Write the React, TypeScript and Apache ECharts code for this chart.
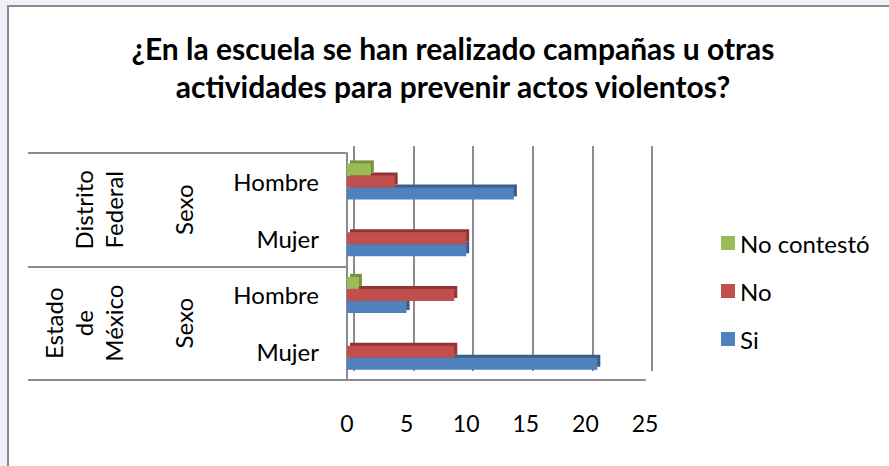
import React, { useEffect, useRef } from "react";
import * as echarts from "echarts";

const subCategories = ["Hombre", "Mujer", "Hombre", "Mujer"];
const sexLabels = ["Sexo", "Sexo"];
const regionLabels = ["Distrito\nFederal", "Estado\nde\nMéxico"];
const seriesNames = ["No contestó", "No", "Si"];
const noContesto = [2, 0, 1, 0];
const no = [4, 10, 9, 9];
const si = [14, 10, 5, 21];
const xTicks = { min: 0, max: 25, interval: 5 };
const titleText = "¿En la escuela se han realizado campañas u otras\nactividades para prevenir actos violentos?";

const FONT = "Lato";

export default function App() {
  const ref = useRef<HTMLDivElement>(null);
  useEffect(() => {
    const chart = echarts.init(ref.current!, null, { renderer: "svg" });
    const colors = ["#9BBB59", "#C0504D", "#4F81BD"];
    const shadows = ["#76923C", "#943634", "#385D8A"];
    const values = [noContesto, no, si];
    chart.setOption({
      animation: false,
      backgroundColor: "#EEF2F8",
      textStyle: { fontFamily: FONT },
      graphic: [
        {
          type: "rect",
          shape: { x: 8, y: 6, width: 900, height: 500 },
          style: { fill: "#ffffff", stroke: "#8a8a8a", lineWidth: 2 },
          z: -10,
        },
        {
          type: "text",
          x: 453,
          y: 29,
          style: {
            text: titleText,
            fill: "#000",
            font: `bold 30px ${FONT}`,
            textAlign: "center",
            lineHeight: 38,
          },
        },
      ],
      legend: {
        orient: "vertical",
        left: 716,
        top: 226,
        itemGap: 24,
        itemWidth: 14,
        itemHeight: 14,
        icon: "rect",
        data: seriesNames,
        textStyle: { fontSize: 24, fontFamily: FONT, color: "#000" },
      },
      grid: [
        { left: 347, top: 153, width: 298, height: 227, outerBoundsMode: "none", containLabel: false },
        { left: 354, top: 146, width: 298, height: 225, outerBoundsMode: "none", containLabel: false },
        { left: 28, top: 153, width: 318, height: 227, outerBoundsMode: "none", containLabel: false },
      ],
      xAxis: [
        {
          gridIndex: 0,
          type: "value",
          ...xTicks,
          axisLine: { show: true, lineStyle: { color: "#8c8c8c", width: 2 } },
          axisTick: { show: false },
          splitLine: { show: false },
          axisLabel: { margin: 31, fontSize: 23, color: "#000", fontFamily: FONT },
        },
        {
          gridIndex: 1,
          type: "value",
          ...xTicks,
          axisLine: { show: false },
          axisTick: { show: false },
          axisLabel: { show: false },
          splitLine: { show: true, lineStyle: { color: "#8c8c8c", width: 2 } },
        },
        {
          gridIndex: 2,
          type: "value",
          show: false,
        },
      ],
      yAxis: [
        {
          gridIndex: 0,
          type: "category",
          position: "left",
          data: subCategories,
          inverse: true,
          axisLine: { show: true, lineStyle: { color: "#8c8c8c", width: 2 } },
          axisTick: { show: false },
          axisLabel: { margin: 28, fontSize: 24, color: "#000", fontFamily: FONT },
        },
        {
          gridIndex: 0,
          type: "category",
          position: "left",
          offset: 0,
          data: sexLabels,
          inverse: true,
          axisLine: { show: false },
          axisTick: { show: false },
          axisLabel: { margin: 152, rotate: 90, fontSize: 24, color: "#000", fontFamily: FONT },
        },
        {
          gridIndex: 0,
          type: "category",
          position: "left",
          offset: 0,
          data: regionLabels,
          inverse: true,
          axisLine: { show: false },
          axisTick: { show: false },
          axisLabel: {
            margin: 219,
            rotate: 90,
            fontSize: 24,
            lineHeight: 30,
            color: "#000",
            fontFamily: FONT,
          },
        },
        {
          gridIndex: 1,
          type: "category",
          data: subCategories,
          show: false,
        },
        {
          gridIndex: 2,
          type: "category",
          data: regionLabels,
          axisLine: { show: false },
          axisTick: { show: false },
          axisLabel: { show: false },
          splitLine: { show: true, lineStyle: { color: "#8c8c8c", width: 2 } },
        },
      ],
      series: seriesNames.map((name, i) => ({
        name,
        type: "bar",
        xAxisIndex: 0,
        yAxisIndex: 0,
        data: values[i],
        barWidth: 12,
        barGap: "0%",
        z: 4 - i,
        itemStyle: {
          color: colors[i],
          shadowColor: shadows[i],
          shadowOffsetX: 3,
          shadowOffsetY: -3,
          shadowBlur: 0,
        },
      })),
    });
    return () => chart.dispose();
  }, []);
  return (
    <div
      ref={ref}
      style={{ position: "absolute", left: 0, top: 0, width: 889, height: 466 }}
    />
  );
}
